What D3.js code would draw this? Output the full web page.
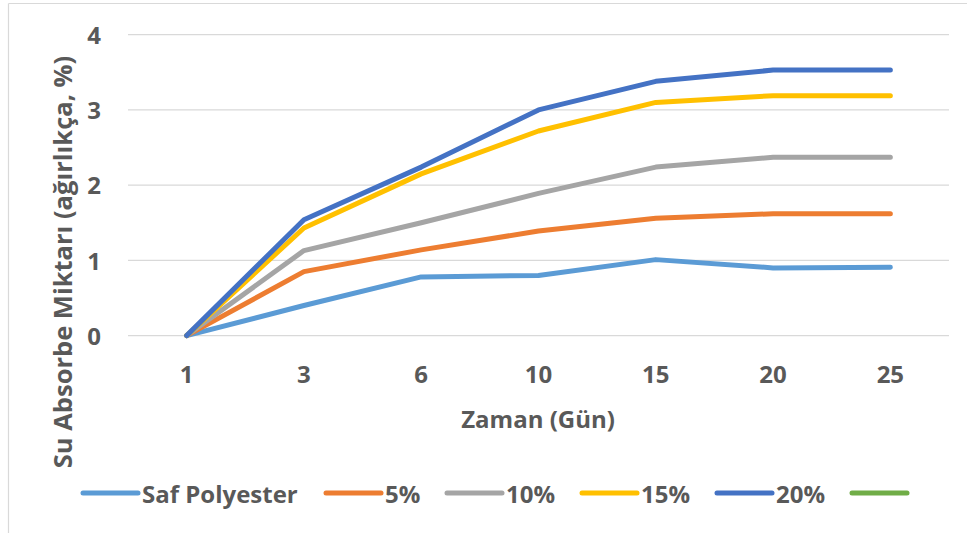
<!DOCTYPE html>
<html>
<head>
<meta charset="utf-8">
<script src="https://cdn.jsdelivr.net/npm/d3@7"></script>
<style>
  html, body { margin: 0; padding: 0; background: #fff; }
  svg text { font-family: "Open Sans", Lato, sans-serif; font-weight: bold; fill: #595959; }
</style>
</head>
<body>
<svg id="chart" width="967" height="533"></svg>
<script>
// Days of measurement (categorical x axis)
const days = ["1", "3", "6", "10", "15", "20", "25"];

// Water absorption (% by weight) for each sample
const safPolyester = [0, 0.40, 0.78, 0.80, 1.01, 0.90, 0.91];
const pct5  = [0, 0.85, 1.14, 1.39, 1.56, 1.62, 1.62];
const pct10 = [0, 1.13, 1.50, 1.89, 2.24, 2.37, 2.37];
const pct15 = [0, 1.43, 2.15, 2.72, 3.10, 3.19, 3.19];
const pct20 = [0, 1.54, 2.24, 3.00, 3.38, 3.53, 3.53];

const yTicks = [0, 1, 2, 3, 4];
const seriesNames = ["Saf Polyester", "5%", "10%", "15%", "20%", ""];
const seriesColors = ["#5B9BD5", "#ED7D31", "#A5A5A5", "#FFC000", "#4472C4", "#70AD47"];
const seriesValues = [safPolyester, pct5, pct10, pct15, pct20];

const fontSize = "24px";

const svg = d3.select("#chart");

// Chart frame (top and left edges visible)
svg.append("line").attr("x1", 8.5).attr("x2", 967).attr("y1", 3.5).attr("y2", 3.5)
  .attr("stroke", "#d9d9d9").attr("stroke-width", 1.2);
svg.append("line").attr("x1", 8.5).attr("x2", 8.5).attr("y1", 3.5).attr("y2", 533)
  .attr("stroke", "#d9d9d9").attr("stroke-width", 1.2);

const plot = { left: 128, right: 949, top: 34.7, bottom: 335.6 };

const x = d3.scaleBand().domain(days).range([plot.left, plot.right]);
const y = d3.scaleLinear().domain([0, 4]).range([plot.bottom, plot.top]);

// Horizontal gridlines
svg.append("g").selectAll("line").data(yTicks).join("line")
  .attr("x1", plot.left).attr("x2", plot.right)
  .attr("y1", d => y(d)).attr("y2", d => y(d))
  .attr("stroke", "#d9d9d9").attr("stroke-width", 1.3);

// Y axis labels
const yAxis = d3.axisLeft(y).tickValues(yTicks).tickSize(0).tickPadding(0).tickFormat(d3.format("d"));
const gy = svg.append("g").attr("transform", `translate(101,0)`).call(yAxis);
gy.select(".domain").remove();
gy.selectAll("text").style("font-size", fontSize).attr("dy", "0.36em");

// X axis labels
const xAxis = d3.axisBottom(x).tickSize(0).tickPadding(0);
const gx = svg.append("g").attr("transform", `translate(0,${plot.bottom})`).call(xAxis);
gx.select(".domain").remove();
gx.selectAll("text").style("font-size", fontSize).attr("dy", "0.36em").attr("y", 39);

// Axis titles
svg.append("text").attr("x", 538).attr("y", 418).attr("text-anchor", "middle")
  .attr("dominant-baseline", "central").style("font-size", fontSize).text("Zaman (Gün)");
svg.append("text").attr("transform", "translate(62,262) rotate(-90)").attr("text-anchor", "middle")
  .attr("dominant-baseline", "central").style("font-size", "25.5px").text("Su Absorbe Miktarı (ağırlıkça, %)");

// Series lines
const line = d3.line()
  .x((d, i) => x(days[i]) + x.bandwidth() / 2)
  .y(d => y(d));

svg.append("g").selectAll("path").data(seriesValues).join("path")
  .attr("d", d => line(d))
  .attr("fill", "none")
  .attr("stroke", (d, i) => seriesColors[i])
  .attr("stroke-width", 5)
  .attr("stroke-linejoin", "round")
  .attr("stroke-linecap", "round");

// Legend
const legendX = [83, 326, 447, 582, 717, 852];
const legendY = 493;
const lg = svg.append("g").selectAll("g").data(seriesNames).join("g")
  .attr("transform", (d, i) => `translate(${legendX[i]},${legendY})`);
lg.append("line").attr("x1", 0).attr("x2", 55).attr("y1", 0).attr("y2", 0)
  .attr("stroke", (d, i) => seriesColors[i]).attr("stroke-width", 5).attr("stroke-linecap", "round");
lg.append("text").attr("x", 59).attr("y", 0).attr("dominant-baseline", "central")
  .style("font-size", fontSize).text(d => d);
</script>
</body>
</html>
